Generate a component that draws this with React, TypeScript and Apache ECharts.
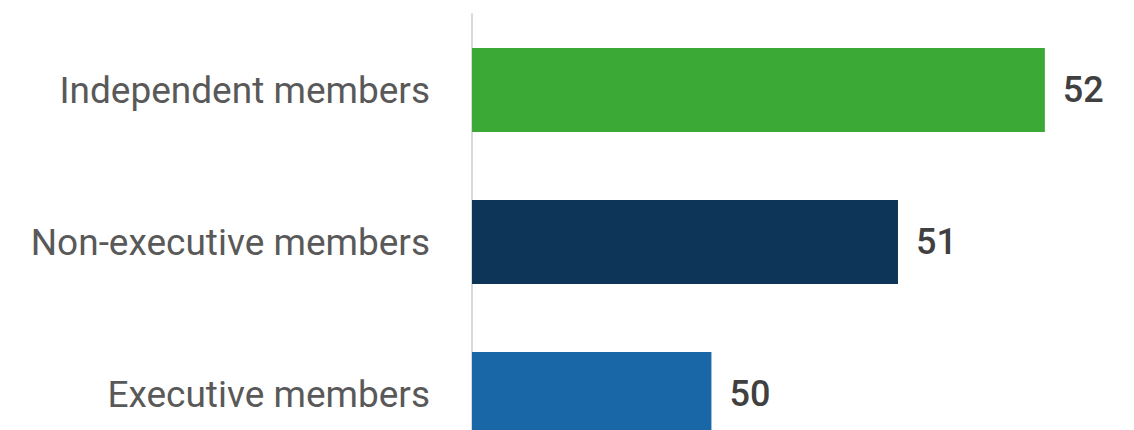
import React, { useEffect, useRef } from "react";
import * as echarts from "echarts";

const categories = ["Independent members", "Non-executive members", "Executive members"];
const values = [51.9, 50.9, 49.63];
const barColors = ["#3ba936", "#0c3557", "#1a67a8"];

export default function App() {
  const ref = useRef<HTMLDivElement>(null);
  useEffect(() => {
    if (!ref.current) return;
    const chart = echarts.init(ref.current, null, { renderer: "svg" });
    chart.setOption({
      animation: false,
      grid: { left: 472, right: 1, top: 14, bottom: 0, containLabel: false },
      xAxis: {
        type: "value",
        min: 48,
        max: 52.5,
        show: false,
        splitLine: { show: false },
      },
      yAxis: {
        type: "category",
        data: categories,
        inverse: true,
        axisLine: { show: true, lineStyle: { color: "#d9d9d9", width: 2 } },
        axisTick: { show: false },
        axisLabel: {
          margin: 42,
          fontFamily: "Roboto",
          fontSize: 37,
          color: "#595959",
        },
      },
      series: [
        {
          type: "bar",
          barWidth: 84,
          data: values.map((v, i) => ({ value: v, itemStyle: { color: barColors[i] } })),
          label: {
            show: true,
            position: "right",
            distance: 18,
            fontFamily: "Roboto",
            fontSize: 36,
            fontWeight: 500,
            color: "#404040",
            formatter: (p: any) => String(Math.round(p.value)),
          },
        },
      ],
    });
    return () => chart.dispose();
  }, []);
  return (
    <div
      style={{ position: "fixed", left: 0, top: 0, width: 1134, height: 430, overflow: "hidden", background: "#fff" }}
    >
      <div ref={ref} style={{ width: 1134, height: 470 }} />
    </div>
  );
}
